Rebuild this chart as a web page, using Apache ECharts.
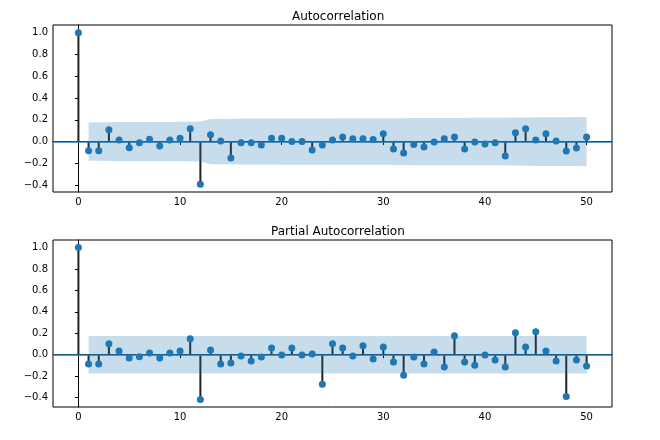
<!DOCTYPE html>
<html>
<head>
<meta charset="utf-8">
<script src="https://cdn.jsdelivr.net/npm/echarts@6/dist/echarts.min.js"></script>
<style>html,body{margin:0;padding:0;background:#fff}#c{width:660px;height:440px}</style>
</head>
<body>
<div id="c"></div>
<script>
// ---- data ----
const lags = [0,1,2,3,4,5,6,7,8,9,10,11,12,13,14,15,16,17,18,19,20,21,22,23,24,25,26,27,28,29,30,31,32,33,34,35,36,37,38,39,40,41,42,43,44,45,46,47,48,49,50];
const acfValues = [1.0,-0.084,-0.084,0.108,0.015,-0.056,-0.012,0.022,-0.040,0.015,0.031,0.118,-0.393,0.062,0.006,-0.152,-0.012,-0.012,-0.031,0.031,0.031,0.0,0.0,-0.077,-0.031,0.015,0.043,0.025,0.025,0.019,0.071,-0.068,-0.105,-0.028,-0.050,-0.003,0.025,0.043,-0.068,-0.003,-0.022,-0.012,-0.133,0.080,0.118,0.015,0.071,0.006,-0.087,-0.059,0.043];
const pacfValues = [1.0,-0.088,-0.088,0.101,0.035,-0.031,-0.019,0.016,-0.031,0.016,0.035,0.148,-0.418,0.044,-0.088,-0.079,-0.013,-0.060,-0.022,0.063,-0.003,0.063,-0.003,0.006,-0.277,0.101,0.063,-0.013,0.082,-0.041,0.072,-0.069,-0.192,-0.022,-0.088,0.025,-0.116,0.176,-0.069,-0.098,-0.003,-0.050,-0.116,0.204,0.072,0.214,0.035,-0.060,-0.390,-0.050,-0.107];
// confidence band half-widths for lags 1..50
const acfBand = [0.1753,0.1765,0.1778,0.1798,0.1798,0.1803,0.1804,0.1804,0.1807,0.1808,0.1809,0.1833,0.2076,0.2081,0.2081,0.2115,0.2115,0.2116,0.2117,0.2118,0.2120,0.2120,0.2120,0.2128,0.2130,0.2130,0.2133,0.2134,0.2135,0.2135,0.2142,0.2149,0.2165,0.2166,0.2169,0.2169,0.2170,0.2173,0.2179,0.2179,0.2180,0.2180,0.2205,0.2214,0.2233,0.2233,0.2240,0.2240,0.2251,0.2256];
const pacfBand = [0.1753,0.1753,0.1753,0.1753,0.1753,0.1753,0.1753,0.1753,0.1753,0.1753,0.1753,0.1753,0.1753,0.1753,0.1753,0.1753,0.1753,0.1753,0.1753,0.1753,0.1753,0.1753,0.1753,0.1753,0.1753,0.1753,0.1753,0.1753,0.1753,0.1753,0.1753,0.1753,0.1753,0.1753,0.1753,0.1753,0.1753,0.1753,0.1753,0.1753,0.1753,0.1753,0.1753,0.1753,0.1753,0.1753,0.1753,0.1753,0.1753,0.1753];
const xTicks = [0,10,20,30,40,50];
const yTicks = [-0.4,-0.2,0.0,0.2,0.4,0.6,0.8,1.0];
const titles = ['Autocorrelation','Partial Autocorrelation'];

// ---- chart ----
const FONT = 'DejaVu Sans';
const BLUE = '#1f77b4';
const chart = echarts.init(document.getElementById('c'), null, {renderer:'canvas'});

function fmt(v){ const s = (Math.round(v*10)/10).toFixed(1); return s.replace('-', '\u2212'); }

function xAxisDef(gi){
  return {
    type:'value', gridIndex:gi, min:-2.5, max:52.5,
    axisLine:{show:true, lineStyle:{color:'#000', width:1}},
    axisTick:{show:true, length:3.5, customValues:xTicks, lineStyle:{color:'#000'}},
    axisLabel:{customValues:xTicks, color:'#000', fontSize:10, fontFamily:FONT, margin:5},
    splitLine:{show:false}
  };
}
function yAxisDef(gi, mn, mx){
  return {
    type:'value', gridIndex:gi, min:mn, max:mx,
    axisLine:{show:true, lineStyle:{color:'#000', width:1}},
    axisTick:{show:true, length:3.5, customValues:yTicks, lineStyle:{color:'#000'}},
    axisLabel:{customValues:yTicks, color:'#000', fontSize:10, fontFamily:FONT, margin:5, formatter:fmt},
    splitLine:{show:false}
  };
}

function seriesFor(gi, values, band){
  const pts = lags.map((l,i)=>[l, values[i]]);
  const up = band.map((b,i)=>[lags[i+1], b]);
  const dn = band.map((b,i)=>[lags[i+1], -b]);
  const bandStyle = {color:'rgba(31,119,180,0.25)', opacity:1};
  return [
    {type:'bar', xAxisIndex:gi, yAxisIndex:gi, data:pts, barWidth:2, itemStyle:{color:'#222'}, z:2, silent:true},
    {type:'line', xAxisIndex:gi, yAxisIndex:gi, data:up, symbol:'none', lineStyle:{width:0, opacity:0}, areaStyle:bandStyle, z:4, silent:true},
    {type:'line', xAxisIndex:gi, yAxisIndex:gi, data:dn, symbol:'none', lineStyle:{width:0, opacity:0}, areaStyle:bandStyle, z:4, silent:true},
    {type:'scatter', xAxisIndex:gi, yAxisIndex:gi, data:pts, symbolSize:7, itemStyle:{color:BLUE, opacity:1}, z:5, silent:true,
      markLine:{silent:true, symbol:['none','none'], label:{show:false}, lineStyle:{color:BLUE, width:1.6, type:'solid', opacity:1}, data:[{yAxis:0}], z:3}}
  ];
}

const option = {
  animation:false,
  backgroundColor:'#fff',
  textStyle:{fontFamily:FONT},
  title:[
    {text:titles[0], left:287, top:6, textStyle:{fontSize:12, fontWeight:'normal', color:'#000', fontFamily:FONT}},
    {text:titles[1], left:266, top:221, textStyle:{fontSize:12, fontWeight:'normal', color:'#000', fontFamily:FONT}}
  ],
  grid:[
    {left:53, right:48, top:25, height:167, show:true, borderColor:'#000', borderWidth:1, backgroundColor:'transparent'},
    {left:53, right:48, top:240, height:167, show:true, borderColor:'#000', borderWidth:1, backgroundColor:'transparent'}
  ],
  xAxis:[xAxisDef(0), xAxisDef(1)],
  yAxis:[yAxisDef(0,-0.463,1.07), yAxisDef(1,-0.489,1.071)],
  series:[].concat(seriesFor(0, acfValues, acfBand), seriesFor(1, pacfValues, pacfBand))
};
chart.setOption(option);
</script>
</body>
</html>
